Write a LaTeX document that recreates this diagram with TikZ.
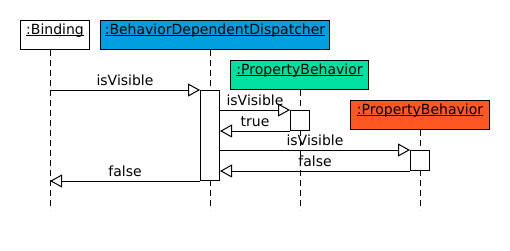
\documentclass[tikz,border=0pt]{standalone}
\usepackage{fontspec}
\setmainfont{DejaVu Sans}
\usetikzlibrary{arrows.meta}

\definecolor{dispblue}{HTML}{009FDF}
\definecolor{propgreen}{HTML}{00E0A0}
\definecolor{proporange}{HTML}{FF5722}
\newcommand{\objname}[1]{\underline{\smash{#1}}}

\begin{document}
\begin{tikzpicture}[
x=1pt, y=-1pt,
font=\fontsize{14}{16}\selectfont,
obj/.style={draw, line width=1pt, anchor=north west, minimum height=29pt, inner sep=0pt},
act/.style={draw, line width=1pt, fill=white, anchor=north west, minimum width=19pt, inner sep=0pt},
lifeline/.style={line width=1pt, dash pattern=on 6pt off 4pt},
msg/.style={-{Triangle[open, length=12pt, width=13pt]}, line width=1pt},
lbl/.style={above, inner xsep=0pt, inner ysep=4pt}
]
\useasboundingbox (0,0) rectangle (510,250);

\node[obj, minimum width=69pt] (bind) at (20,20) {\objname{:Binding}};
\node[obj, fill=dispblue, minimum width=229pt] (disp) at (100,20) {\objname{:BehaviorDependentDispatcher}};
\node[obj, fill=propgreen, minimum width=138pt] (prop1) at (230,60) {\objname{:PropertyBehavior}};
\node[obj, fill=proporange, minimum width=139pt] (prop2) at (350,100) {\objname{:PropertyBehavior}};

\coordinate (bind-end) at (50,210);
\coordinate (disp-end) at (210,210);
\coordinate (prop1-end) at (300,210);
\coordinate (prop2-end) at (420,210);

\draw[lifeline] (bind.south -| bind-end) -- (bind-end);
\draw[lifeline] (disp.south -| disp-end) -- (disp-end);
\draw[lifeline] (prop1.south -| prop1-end) -- (prop1-end);
\draw[lifeline] (prop2.south -| prop2-end) -- (prop2-end);

\node[act, minimum height=90pt] (dispact) at (200,90) {};
\node[act, minimum height=20pt] (prop1act) at (290,110) {};
\node[act, minimum height=20pt] (prop2act) at (410,150) {};

\draw[msg] (bind-end |- dispact.north) -- node[lbl] {isVisible} (dispact.north west);
\draw[msg] (dispact.east |- prop1act.north) -- node[lbl] {isVisible} (prop1act.north west);
\draw[msg] (prop1act.south west) -- node[lbl] {true} (dispact.east |- prop1act.south);
\draw[msg] (dispact.east |- prop2act.north) -- node[lbl] {isVisible} (prop2act.north west);
\draw[msg] (prop2act.south west) -- node[lbl] {false} (dispact.east |- prop2act.south);
\draw[msg] (dispact.south west) -- node[lbl] {false} (bind-end |- dispact.south);
\end{tikzpicture}
\end{document}
